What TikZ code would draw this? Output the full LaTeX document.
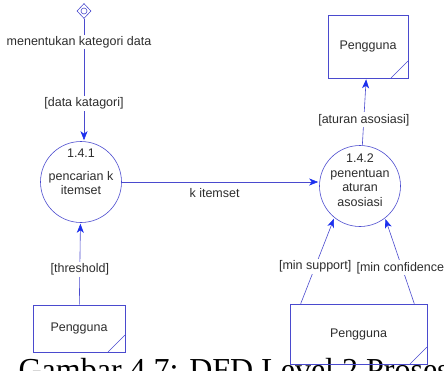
\documentclass[tikz,border=0pt]{standalone}
\usepackage{fontspec}
\setmainfont{Liberation Sans}
\newfontfamily\captionfont{Liberation Serif}
\usepackage{xcolor}
\usetikzlibrary{arrows.meta,shapes.geometric}
\definecolor{dfdline}{RGB}{74,74,206}
\definecolor{dfdtip}{RGB}{28,48,238}
\definecolor{dfdtext}{RGB}{45,45,45}

\begin{document}
\begin{tikzpicture}[x=1pt,y=-1pt,line width=0.6pt,
	font=\fontsize{12.5}{14.5}\selectfont,text=dfdtext,
	proc/.style={draw=dfdline,circle,minimum size=81pt,inner sep=0pt},
	ent/.style={draw=dfdline,rectangle,inner sep=0pt,
		path picture={\draw[dfdline] (path picture bounding box.south east) ++(0pt,17pt) -- ++(-17pt,-17pt);}},
	flow/.style={dfdline,-{Stealth[length=9pt,width=7pt,inset=2.5pt,color=dfdtip]},shorten >=1pt},
	lbl/.style={fill=white,inner sep=1.5pt,text=dfdtext}]
	\path[use as bounding box,clip] (0,0) rectangle (444,370);
	\node[anchor=base west,text=black,font=\captionfont\fontsize{32}{36}\selectfont] at (15,380) (cap) {Gambar 4.7: DFD Level 2 Proses};
	\node[draw=dfdline,diamond,minimum width=14pt,minimum height=15pt,inner sep=0pt] at (84,11) (start) {};
	\draw[dfdline] (start) circle (3pt);
	\node[proc] at (81,182) (p1) {};
	\node at (81,153) (p1no) {1.4.1};
	\node[align=center] at (81,183) (p1name) {pencarian k\\itemset};
	\node[proc] at (360,186) (p2) {};
	\node at (360,158) (p2no) {1.4.2};
	\node[align=center] at (360,188) (p2name) {penentuan\\aturan\\asosiasi};
	\node[ent,minimum width=80pt,minimum height=63pt] at (368,46.5) (u1) {Pengguna};
	\node[ent,minimum width=92pt,minimum height=47pt] at (79,328.5) (u2) {Pengguna};
	\node[ent,minimum width=137pt,minimum height=60pt] at (358.5,334) (u3) {Pengguna};
	\coordinate (s1) at ([xshift=11pt]u3.north west);
	\coordinate (s2) at ([xshift=-13pt]u3.north east);
	\draw[flow] (start) -- node[lbl,pos=0.69] (f1) {[data katagori]} (start |- p1.north);
	\node[lbl] at (79,42) (f0) {menentukan kategori data};
	\draw[flow] (p1.east) -- node[below=3pt,pos=0.47,text=dfdtext] (f2) {k itemset} (p2.west |- p1.east);
	\draw[flow] (u2) -- node[lbl,pos=0.43] (f3) {[threshold]} (p1);
	\draw[flow] (p2) -- node[lbl,pos=0.38] (f4) {[aturan asosiasi]} (u1);
	\draw[flow] (s1) -- node[lbl,pos=0.43] (f5) {[min support]} (p2.231);
	\draw[flow] (s2) -- node[lbl,pos=0.42] (f6) {[min confidence]} (p2.308);
\end{tikzpicture}
\end{document}
